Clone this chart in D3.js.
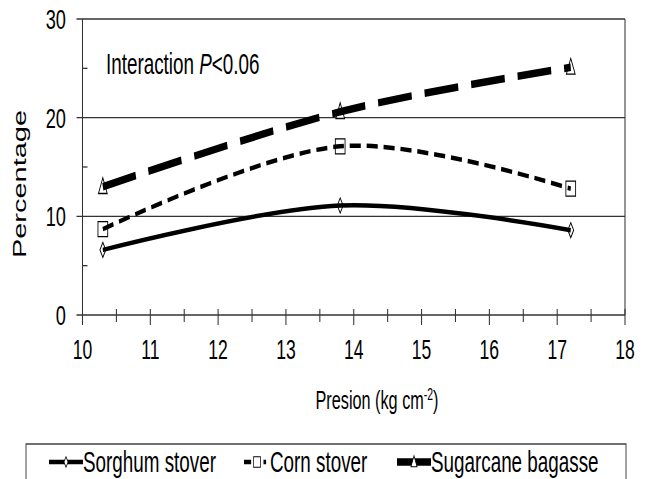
<!DOCTYPE html>
<html>
<head>
<meta charset="utf-8">
<script src="https://cdn.jsdelivr.net/npm/d3@7"></script>
<style>
  html, body { margin: 0; padding: 0; background: #fff; }
  svg { display: block; font-family: "Liberation Sans", Arial, sans-serif; }
</style>
</head>
<body>
<svg id="chart" width="650" height="479"></svg>
<script>
// data
const presion = [10.3, 13.8, 17.2];
const sorghum = [6.6, 11.1, 8.6];
const corn = [8.7, 17.1, 12.8];
const sugarcane = [13.0, 20.6, 25.1];
const seriesNames = ["Sorghum stover", "Corn stover", "Sugarcane bagasse"];
const yTicks = [0, 10, 20, 30];
const xTicks = [10, 11, 12, 13, 14, 15, 16, 17, 18];

// the picture is squeezed sideways, so draw in a wider box and squash it
const k = 0.65;
const sx = v => v / k;
const svg = d3.select("#chart")
  .attr("viewBox", `0 0 ${650 / k} 479`)
  .attr("preserveAspectRatio", "none");

const x = d3.scaleLinear().domain([10, 18]).range([sx(82.5), sx(625)]);
const y = d3.scaleLinear().domain([0, 30]).range([315, 19]);
const ink = "#333";

// grid lines + frame
svg.selectAll("line.grid")
  .data(yTicks)
  .enter().append("line")
    .attr("class", "grid")
    .attr("x1", x(10) - sx(6)).attr("x2", x(18))
    .attr("y1", d => y(d)).attr("y2", d => y(d))
    .attr("stroke", ink).attr("stroke-width", 1.4);

svg.append("line")
  .attr("x1", x(18)).attr("x2", x(18))
  .attr("y1", y(30)).attr("y2", y(0))
  .attr("stroke", ink).attr("stroke-width", 1.6);

// y axis
svg.append("line")
  .attr("x1", x(10)).attr("x2", x(10))
  .attr("y1", y(30)).attr("y2", y(0) + 10)
  .attr("stroke", ink).attr("stroke-width", 1.6);

svg.selectAll("line.ymin")
  .data([5, 15, 25])
  .enter().append("line")
    .attr("x1", x(10)).attr("x2", x(10) + sx(5))
    .attr("y1", d => y(d)).attr("y2", d => y(d))
    .attr("stroke", ink).attr("stroke-width", 1.3);

svg.selectAll("text.ytick")
  .data(yTicks)
  .enter().append("text")
    .attr("x", sx(66))
    .attr("y", d => y(d) + 10)
    .attr("text-anchor", "end")
    .style("font-size", "28px")
    .text(d => d);

// x axis ticks
svg.selectAll("line.xmaj")
  .data(xTicks)
  .enter().append("line")
    .attr("x1", d => x(d)).attr("x2", d => x(d))
    .attr("y1", y(0) - 6).attr("y2", y(0) + 10)
    .attr("stroke", ink).attr("stroke-width", 1.6);

svg.selectAll("line.xmin")
  .data(d3.range(10.5, 18, 1))
  .enter().append("line")
    .attr("x1", d => x(d)).attr("x2", d => x(d))
    .attr("y1", y(0) - 6).attr("y2", y(0) + 7)
    .attr("stroke", ink).attr("stroke-width", 1.6);

svg.selectAll("text.xtick")
  .data(xTicks)
  .enter().append("text")
    .attr("x", d => x(d))
    .attr("y", 359)
    .attr("text-anchor", "middle")
    .style("font-size", "27px")
    .text(d => d);

// axis titles
const xt = svg.append("text")
  .attr("x", sx(377)).attr("y", 409)
  .attr("text-anchor", "middle")
  .style("font-size", "25px");
xt.append("tspan").text("Presion (kg cm");
xt.append("tspan").attr("dy", -9).style("font-size", "16px").text("-2");
xt.append("tspan").attr("dy", 9).text(")");

svg.append("text")
  .attr("transform", `translate(${sx(26)},184) rotate(-90)`)
  .attr("text-anchor", "middle")
  .style("font-size", "29px")
  .text("Percentage");

const note = svg.append("text")
  .attr("x", sx(106)).attr("y", 74)
  .style("font-size", "29px");
note.append("tspan").text("Interaction ");
note.append("tspan").style("font-style", "italic").text("P");
note.append("tspan").text("<0.06");

// markers
const diamond = s => `M0,${-s}L${s * 0.6},0L0,${s}L${-s * 0.6},0Z`;
const square = s => `M${-s},${-s}H${s}V${s}H${-s}Z`;
const triangle = s => `M0,${-s}L${s * 0.75},${s * 0.75}H${-s * 0.75}Z`;

const series = [
  { name: seriesNames[0], values: sorghum, width: 4.5, dash: null, legendDash: null, shape: diamond, size: 7.5 },
  { name: seriesNames[1], values: corn, width: 4.5, dash: "17,9", legendDash: "11,19,4,20", shape: square, size: 7.5 },
  { name: seriesNames[2], values: sugarcane, width: 7.5, dash: "52,20", legendDash: null, shape: triangle, size: 9 }
];

series.forEach(s => {
  svg.selectAll(null)
    .data(presion)
    .enter().append("path")
      .attr("transform", (d, i) => `translate(${x(d)},${y(s.values[i])})`)
      .attr("d", s.shape(s.size))
      .attr("fill", "#fff")
      .attr("stroke", "#000")
      .attr("stroke-width", 1.3);
});

const line = d3.line()
  .x((d, i) => x(presion[i]))
  .y(d => y(d))
  .curve(d3.curveCardinal.tension(0));

series.forEach(s => {
  svg.append("path")
    .datum(s.values)
    .attr("d", line)
    .attr("fill", "none")
    .attr("stroke", "#000")
    .attr("stroke-width", s.width)
    .attr("stroke-dasharray", s.dash);
});

// legend
svg.append("rect")
  .attr("x", sx(26)).attr("y", 444)
  .attr("width", sx(600)).attr("height", 60)
  .attr("fill", "none")
  .attr("stroke", ink).attr("stroke-width", 1.4);

const legendX = [[49, 83], [244, 270], [397, 431]];
const ly = 462;
series.forEach((s, i) => {
  const [a, b] = legendX[i];
  svg.append("line")
    .attr("x1", sx(a)).attr("x2", sx(b))
    .attr("y1", ly).attr("y2", ly)
    .attr("stroke", "#000")
    .attr("stroke-width", s.width)
    .attr("stroke-dasharray", s.legendDash);
  svg.append("path")
    .attr("transform", `translate(${sx((a + b) / 2)},${ly})`)
    .attr("d", s.shape(s.size * 0.7))
    .attr("fill", "#fff")
    .attr("stroke", "#000")
    .attr("stroke-width", 1.1);
  svg.append("text")
    .attr("x", sx(b)).attr("y", 472)
    .style("font-size", "29px")
    .text(s.name);
});
</script>
</body>
</html>
